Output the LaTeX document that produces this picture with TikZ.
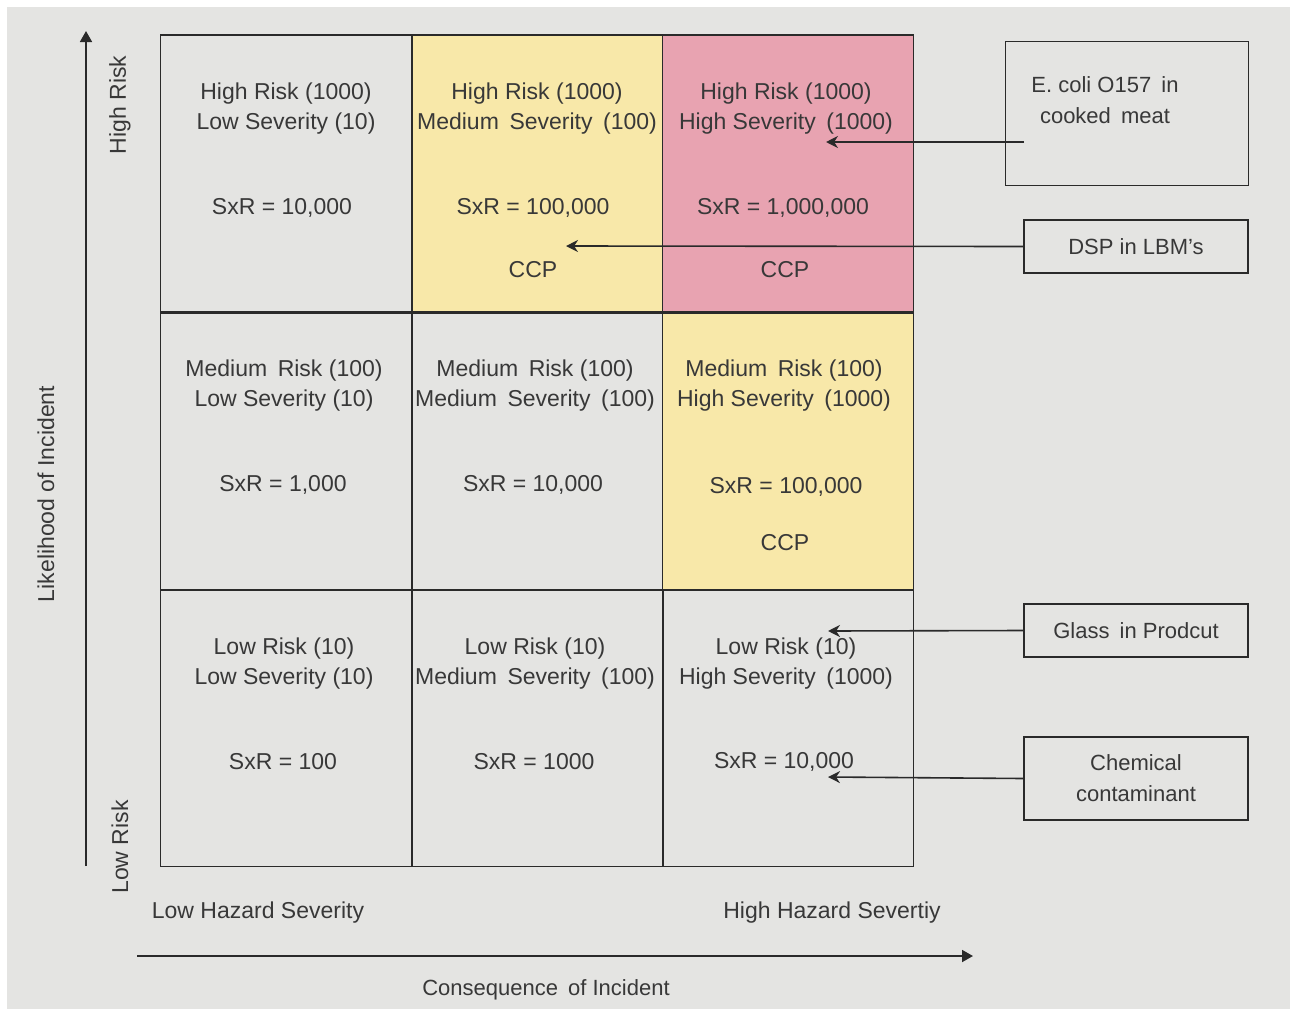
\documentclass[tikz,border=0pt]{standalone}
\usepackage{fontspec}
\setmainfont{Liberation Sans}
\usetikzlibrary{arrows.meta}
\definecolor{bgc}{HTML}{E4E4E2}
\definecolor{yel}{HTML}{F8E8A9}
\definecolor{pnk}{HTML}{E8A3B1}
\definecolor{ink}{HTML}{383838}
\definecolor{rule}{HTML}{2A2A2A}
% a slightly widened word gap
\newcommand\wgap{\hspace{0.46em}}
\tikzset{
  cell/.style={draw=rule, line width=1.6pt, minimum width=251pt, minimum height=277pt,
    inner sep=0pt, outer sep=0pt},
  txt/.style={text=ink, font=\fontsize{23}{30}\selectfont, align=center, inner sep=0pt},
  axlabel/.style={text=ink, font=\fontsize{23}{30}\selectfont, inner sep=0pt},
  hazard/.style={draw=rule, line width=1.6pt, fill=bgc, inner sep=0pt,
    text=ink, font=\fontsize{22}{31}\selectfont, align=center},
  pointer/.style={draw=rule, line width=1.6pt, -{Stealth[length=12pt,width=12pt]}},
  axis/.style={draw=rule, line width=1.8pt, -{Triangle[length=11pt,width=12pt]}}
}
\begin{document}
\begin{tikzpicture}[x=1pt,y=-1pt]
\useasboundingbox (0,0) rectangle (1293,1012);
% page background
\fill[white] (0,0) rectangle (1293,1012);
\fill[bgc] (7,7) rectangle (1290,1009);

% risk matrix cells (row 1 = high risk, column 3 = high severity)
\node[cell]            (c11) at (286,173.5) {};
\node[cell, fill=yel]  (c12) at (537.5,173.5) {};
\node[cell, fill=pnk]  (c13) at (788,173.5) {};
\node[cell]            (c21) at (286,451.5) {};
\node[cell]            (c22) at (537.5,451.5) {};
\node[cell, fill=yel]  (c23) at (788,451.5) {};
\node[cell]            (c31) at (286,728) {};
\node[cell]            (c32) at (537.5,728) {};
\node[cell]            (c33) at (788,728) {};

% cell texts
\node[txt] (t11a) at (286,109) {High Risk (1000)\\Low Severity (10)};
\node[txt] (t11b) at (282,208) {SxR = 10,000};
\node[txt] (t12a) at (537,109) {High Risk (1000)\\Medium\wgap Severity\wgap (100)};
\node[txt] (t12b) at (533,208) {SxR = 100,000};
\node[txt] (t12c) at (533,270) {CCP};
\node[txt] (t13a) at (786,109) {High Risk (1000)\\High Severity\wgap (1000)};
\node[txt] (t13b) at (783,208) {SxR = 1,000,000};
\node[txt] (t13c) at (785,270) {CCP};

\node[txt] (t21a) at (284,386) {Medium\wgap Risk (100)\\Low Severity (10)};
\node[txt] (t21b) at (283,485) {SxR = 1,000};
\node[txt] (t22a) at (535,386) {Medium\wgap Risk (100)\\Medium\wgap Severity\wgap (100)};
\node[txt] (t22b) at (533,485) {SxR = 10,000};
\node[txt] (t23a) at (784,386) {Medium\wgap Risk (100)\\High Severity\wgap (1000)};
\node[txt] (t23b) at (786,487) {SxR = 100,000};
\node[txt] (t23c) at (785,543) {CCP};

\node[txt] (t31a) at (284,664) {Low Risk (10)\\Low Severity (10)};
\node[txt] (t31b) at (283,762) {SxR = 100};
\node[txt] (t32a) at (535,664) {Low Risk (10)\\Medium\wgap Severity\wgap (100)};
\node[txt] (t32b) at (534,762) {SxR = 1000};
\node[txt] (t33a) at (786,664) {Low Risk (10)\\High Severity\wgap (1000)};
\node[txt] (t33b) at (784,762) {SxR = 10,000};

% hazard boxes on the right
\node[hazard, minimum width=243pt, minimum height=144pt] (ecoli) at (1127,113.5) {};
\node[txt, font=\fontsize{22}{31}\selectfont] (ecolitxt) at (1105,100) {E. coli O157\wgap in\\cooked\wgap meat};
\node[hazard, minimum width=224pt, minimum height=53pt] (dsp) at (1136,246.5) {DSP in LBM's};
\node[hazard, minimum width=224pt, minimum height=53pt] (glass) at (1136,630.5) {Glass\wgap in Prodcut};
\node[hazard, minimum width=224pt, minimum height=83pt] (chem) at (1136,778.5) {Chemical\\contaminant};

% pointer ends
\coordinate (ecolistart) at (1024,142);
\coordinate (ecolitip) at (826,142);
\coordinate (dsptip) at (566,246);
\coordinate (glasstip) at (828,631);
\coordinate (chemtip) at (828,777);

\draw[pointer] (ecolistart) -- (ecolitip);
\draw[pointer] (dsp.west) -- (dsptip);
\draw[pointer] (glass.west) -- (glasstip);
\draw[pointer] (chem.west) -- (chemtip);

% axes
\coordinate (ybot) at (86,866);
\coordinate (ytop) at (86,31);
\coordinate (xleft) at (137,956);
\coordinate (xright) at (973,956);
\draw[axis] (ybot) -- (ytop);
\draw[axis] (xleft) -- (xright);

% axis labels
\node[axlabel, rotate=90] (highrisk) at (120,105) {High Risk};
\node[axlabel, rotate=90] (lowrisk) at (120,847) {Low Risk};
\node[axlabel, rotate=90] (likely) at (46,494) {Likelihood of Incident};
\node[axlabel] (lowsev) at (258,913) {Low Hazard Severity};
\node[axlabel] (highsev) at (832,913) {High Hazard Severtiy};
\node[axlabel, font=\fontsize{22}{30}\selectfont] (conseq) at (546,990) {Consequence\wgap of Incident};
\end{tikzpicture}
\end{document}
